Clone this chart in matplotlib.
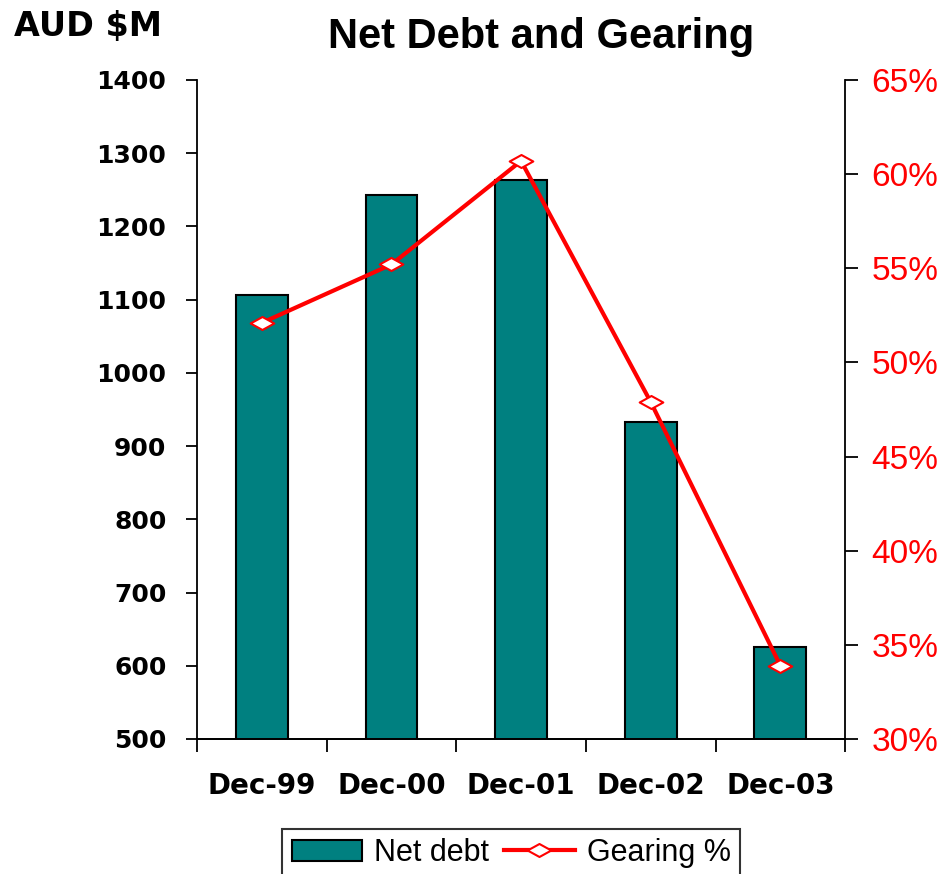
import numpy as np
import matplotlib
matplotlib.use("Agg")
import matplotlib.pyplot as plt
from matplotlib.path import Path
from matplotlib.ticker import FixedLocator, FuncFormatter

# data
periods = ["Dec-99", "Dec-00", "Dec-01", "Dec-02", "Dec-03"]
net_debt = [1107, 1243, 1264, 933, 625]          # AUD $M
gearing = [52.1, 55.2, 60.7, 47.9, 33.9]         # %

TEAL = "#008080"
RED = "#FF0000"

# flat diamond like the original marker
flat_diamond = Path([(0, 0.55), (1, 0), (0, -0.55), (-1, 0), (0, 0.55)],
                    [Path.MOVETO, Path.LINETO, Path.LINETO, Path.LINETO,
                     Path.CLOSEPOLY])

fig = plt.figure(figsize=(9.38, 8.74), dpi=100)
ax = fig.add_axes([0.210, 0.1545, 0.691, 0.754])
ax2 = ax.twinx()

x = np.arange(len(periods))
ax.bar(x, net_debt, width=0.4, color=TEAL, edgecolor="black", linewidth=1.5,
       label="Net debt", zorder=2)
ax2.plot(x, gearing, color=RED, lw=3, marker=flat_diamond, ms=17,
         mfc="white", mec=RED, mew=1.5, label="Gearing %", zorder=3)

ax.set_xlim(-0.5, len(periods) - 0.5)
ax.set_ylim(500, 1400)
ax2.set_ylim(30, 65)

# ticks between categories on x, labels centred under bars
ax.xaxis.set_major_locator(FixedLocator(np.arange(-0.5, len(periods), 1.0)))
ax.xaxis.set_major_formatter(FuncFormatter(lambda v, p: ""))
ax.xaxis.set_minor_locator(FixedLocator(x))
ax.set_xticklabels(periods, minor=True)
ax.tick_params(axis="x", which="major", direction="out", length=9, width=1.3)
ax.tick_params(axis="x", which="minor", length=0, pad=24)
for lab in ax.get_xticklabels(minor=True):
    lab.set_fontsize(20)
    lab.set_fontweight("bold")
    lab.set_family("DejaVu Sans")

ax.set_yticks(np.arange(500, 1401, 100))
ax.tick_params(axis="y", direction="out", length=8, width=1.3, pad=14,
               labelsize=18)
for lab in ax.get_yticklabels():
    lab.set_fontweight("bold")

ax2.set_yticks(np.arange(30, 66, 5))
ax2.yaxis.set_major_formatter(FuncFormatter(lambda v, p: f"{v:.0f}%"))
ax2.tick_params(axis="y", direction="out", length=9, width=1.3, pad=10,
                labelsize=24, labelcolor=RED)
for lab in ax2.get_yticklabels():
    lab.set_family("Liberation Sans")

for a in (ax, ax2):
    a.spines["top"].set_visible(False)
    for s in ("left", "right", "bottom"):
        a.spines[s].set_linewidth(1.3)
ax.spines["right"].set_visible(False)
ax2.spines["left"].set_visible(False)

fig.text(0.577, 0.958, "Net Debt and Gearing", ha="center", va="center",
         fontsize=30, fontweight="bold", family="Liberation Sans")
fig.text(0.015, 0.970, "AUD $M", ha="left", va="center",
         fontsize=24, fontweight="bold", family="DejaVu Sans")

h1, l1 = ax.get_legend_handles_labels()
h2, l2 = ax2.get_legend_handles_labels()
leg = fig.legend(h1 + h2, l1 + l2, loc="upper center",
                 bbox_to_anchor=(0.545, 0.0515), ncol=2, frameon=True,
                 fancybox=False, edgecolor="black", handlelength=2.3,
                 handletextpad=0.4, columnspacing=0.5, borderpad=0.3,
                 borderaxespad=0, prop={"family": "Liberation Sans", "size": 22})
leg.get_frame().set_linewidth(1.5)

fig.savefig("out.png", dpi=100)
